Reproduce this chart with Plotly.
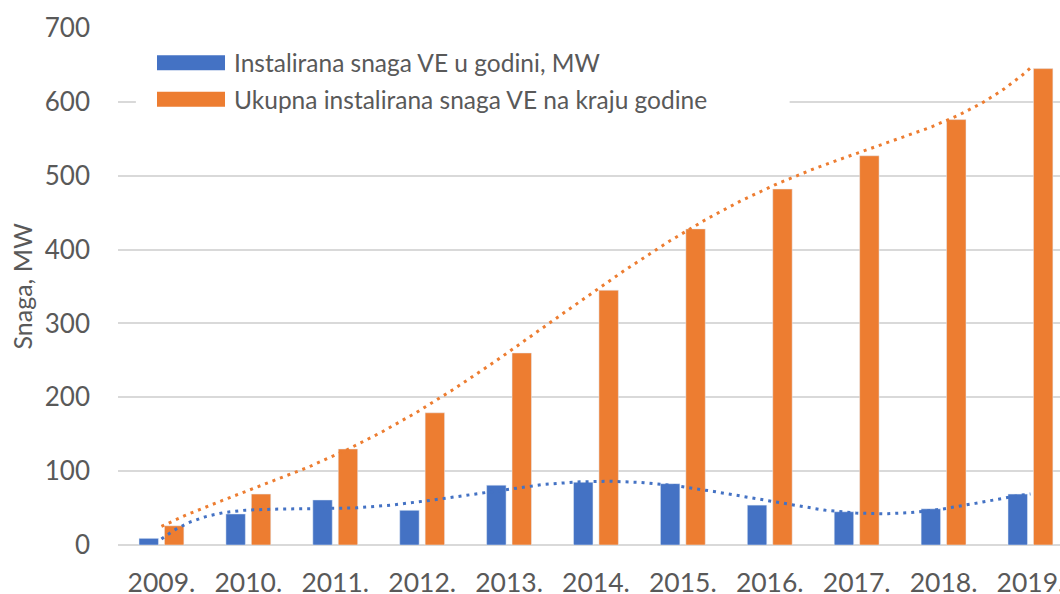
import numpy as np
import plotly.graph_objects as go

years = ["2009.", "2010.", "2011.", "2012.", "2013.", "2014.", "2015.", "2016.", "2017.", "2018.", "2019."]
annual = [9, 42, 61, 47, 81, 85, 83, 54, 45, 49, 69]
total = [26, 69, 130, 179, 260, 345, 428, 482, 527, 576, 645]

name_annual = "Instalirana snaga VE u godini, MW"
name_total = "Ukupna instalirana snaga VE na kraju godine"

BLUE = "#4472C4"
ORANGE = "#ED7D31"
GREY_TXT = "#595959"
FONT = "Lato"

x_idx = np.arange(len(years))


def poly_trend(values, degree):
    # polynomial trendline fitted to the bar values, like the spreadsheet did
    coef = np.polyfit(x_idx, values, degree)
    xs = np.linspace(0, len(years) - 1, 300)
    return xs, np.polyval(coef, xs)


fig = go.Figure()

fig.add_trace(go.Bar(x=x_idx, y=annual, name=name_annual, marker=dict(color=BLUE)))
fig.add_trace(go.Bar(x=x_idx, y=total, name=name_total, marker=dict(color=ORANGE)))

for values, color, deg in [(annual, BLUE, 6), (total, ORANGE, 5)]:
    tx, ty = poly_trend(values, deg)
    fig.add_trace(go.Scatter(
        x=tx, y=ty,
        mode="lines",
        line=dict(color=color, width=3, dash="3px,5px"),
        hoverinfo="skip",
        showlegend=False
    ))

fig.update_layout(
    width=1060,
    height=594,
    margin=dict(t=28, b=49, l=118, r=0),
    plot_bgcolor="white",
    paper_bgcolor="white",
    barmode="group",
    bargap=0.415,
    bargroupgap=0.235,
    showlegend=False,
    font=dict(family=FONT, color=GREY_TXT, size=26),
)

fig.update_xaxes(
    tickmode="array",
    tickvals=list(x_idx),
    ticktext=years,
    range=[-0.5, 10.34],
    showgrid=False,
    zeroline=False,
    ticks="",
    automargin=False,
    ticklabeloverflow="allow",
    ticklabelstandoff=19,
    tickfont=dict(size=26.5, color=GREY_TXT),
)

fig.update_yaxes(
    range=[0, 700],
    dtick=100,
    showgrid=True,
    gridcolor="#D9D9D9",
    gridwidth=1.5,
    zeroline=True,
    zerolinecolor="#D9D9D9",
    zerolinewidth=1.5,
    ticks="",
    automargin=False,
    ticklabelstandoff=27,
    tickfont=dict(size=26, color=GREY_TXT),
)

fig.add_annotation(x=0, y=0.5, xref="paper", yref="paper", xshift=-97,
                   xanchor="center", yanchor="middle",
                   text="Snaga, MW", textangle=-90, showarrow=False,
                   font=dict(size=25, color=GREY_TXT, family=FONT))

# legend drawn by hand so the swatches can be wide rectangles like the original
fig.add_shape(type="rect", xref="paper", yref="paper", layer="above",
              x0=0.019, x1=0.713, y0=0.83, y1=0.97,
              fillcolor="white", line=dict(width=0))

for row, (label, color) in enumerate([(name_annual, BLUE), (name_total, ORANGE)]):
    yc = 0.933 - row * 0.071
    fig.add_shape(type="rect", xref="paper", yref="paper", layer="above",
                  x0=0.0414, x1=0.1136, y0=yc - 0.0145, y1=yc + 0.0145,
                  fillcolor=color, line=dict(width=0))
    fig.add_annotation(x=0.1215, y=yc, xref="paper", yref="paper",
                       text=label, showarrow=False, xanchor="left", yanchor="middle",
                       font=dict(size=24.5, color=GREY_TXT, family=FONT))

# drop the default page margin so the figure sits at the window's corner
fig.write_html("out.html", config={"displayModeBar": False},
               post_script="document.body.style.margin='0';")
